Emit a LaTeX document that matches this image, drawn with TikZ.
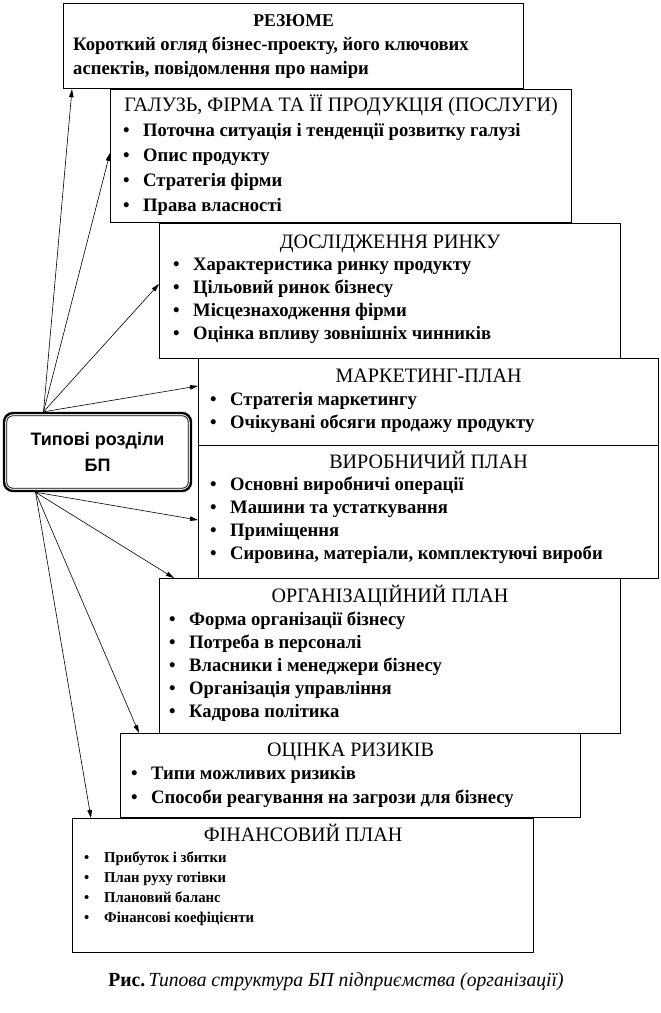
\documentclass[tikz,border=0pt]{standalone}
\usepackage{fontspec}
\setmainfont{Liberation Serif}
\newfontfamily\narrowserif{Liberation Serif}[FakeStretch=0.98]
\newfontfamily\hubfont{Liberation Sans}
\usetikzlibrary{arrows.meta, positioning}

\newcommand{\itm}[1]{\makebox[20pt][l]{\textbullet}#1}

\begin{document}
\begin{tikzpicture}[
    x=1pt, y=-1pt,
    secbox/.style={rectangle, draw, line width=1.2pt, anchor=north west},
    sectitle/.style={anchor=base, inner sep=0pt, font=\narrowserif\fontsize{20.5}{22}\selectfont},
    seclist/.style={anchor=north west, inner sep=0pt, align=left, font=\narrowserif\bfseries\fontsize{19}{23}\selectfont},
    hub/.style={rectangle, rounded corners=9pt, draw, line width=2.4pt, minimum width=187pt, minimum height=78pt, align=center, font=\hubfont\bfseries\fontsize{18}{26}\selectfont},
    arrow/.style={-{Triangle[length=8pt, width=4.5pt]}, line width=0.6pt}
]
\useasboundingbox (0,0) rectangle (661,1013);

% section boxes
\node[secbox, minimum width=460pt, minimum height=85pt] (resume) at (63,3) {};
\node[secbox, minimum width=461pt, minimum height=133pt] (galuz) at (110,89) {};
\node[secbox, minimum width=461pt, minimum height=135pt] (rynok) at (159,223) {};
\node[secbox, minimum width=460pt, minimum height=87pt] (marketing) at (198,358) {};
\node[secbox, minimum width=460pt, minimum height=133pt] (vyrob) at (198,445) {};
\node[secbox, minimum width=461pt, minimum height=155pt] (orgplan) at (159,578) {};
\node[secbox, minimum width=460pt, minimum height=84pt] (ryzyky) at (120,733) {};
\node[secbox, minimum width=461pt, minimum height=134pt] (finplan) at (72,818) {};

% titles
\node[sectitle, font=\narrowserif\bfseries\fontsize{18}{22}\selectfont] (resumeT) at ([yshift=-23pt]resume.north) {РЕЗЮМЕ};
\node[sectitle] (galuzT) at ([yshift=-22pt]galuz.north) {ГАЛУЗЬ, ФІРМА ТА ЇЇ ПРОДУКЦІЯ (ПОСЛУГИ)};
\node[sectitle] (rynokT) at ([yshift=-25pt]rynok.north) {ДОСЛІДЖЕННЯ РИНКУ};
\node[sectitle] (marketingT) at ([yshift=-24pt]marketing.north) {МАРКЕТИНГ-ПЛАН};
\node[sectitle] (vyrobT) at ([yshift=-23pt]vyrob.north) {ВИРОБНИЧИЙ ПЛАН};
\node[sectitle] (orgplanT) at ([yshift=-24pt]orgplan.north) {ОРГАНІЗАЦІЙНИЙ ПЛАН};
\node[sectitle] (ryzykyT) at ([yshift=-23pt]ryzyky.north) {ОЦІНКА РИЗИКІВ};
\node[sectitle] (finplanT) at ([yshift=-23pt]finplan.north) {ФІНАНСОВИЙ ПЛАН};

% contents
\node[seclist, font=\narrowserif\bfseries\fontsize{19}{24}\selectfont] (resumeL) at ([xshift=10pt,yshift=-34pt]resume.north west)
    {Короткий огляд бізнес-проекту, його ключових\\аспектів, повідомлення про наміри};
\node[seclist, font=\narrowserif\bfseries\fontsize{19}{25}\selectfont] (galuzL) at ([xshift=13pt,yshift=-34pt]galuz.north west)
    {\itm{Поточна ситуація і тенденції розвитку галузі}\\\itm{Опис продукту}\\\itm{Стратегія фірми}\\\itm{Права власності}};
\node[seclist] (rynokL) at ([xshift=14pt,yshift=-35pt]rynok.north west)
    {\itm{Характеристика ринку продукту}\\\itm{Цільовий ринок бізнесу}\\\itm{Місцезнаходження фірми}\\\itm{Оцінка впливу зовнішніх чинників}};
\node[seclist] (marketingL) at ([xshift=12pt,yshift=-34pt]marketing.north west)
    {\itm{Стратегія маркетингу}\\\itm{Очікувані обсяги продажу продукту}};
\node[seclist] (vyrobL) at ([xshift=12pt,yshift=-32pt]vyrob.north west)
    {\itm{Основні виробничі операції}\\\itm{Машини та устаткування}\\\itm{Приміщення}\\\itm{Сировина, матеріали, комплектуючі вироби}};
\node[seclist] (orgplanL) at ([xshift=10pt,yshift=-34pt]orgplan.north west)
    {\itm{Форма організації бізнесу}\\\itm{Потреба в персоналі}\\\itm{Власники і менеджери бізнесу}\\\itm{Організація управління}\\\itm{Кадрова політика}};
\node[seclist, font=\narrowserif\bfseries\fontsize{19}{24}\selectfont] (ryzykyL) at ([xshift=11pt,yshift=-33pt]ryzyky.north west)
    {\itm{Типи можливих ризиків}\\\itm{Способи реагування на загрози для бізнесу}};
\node[seclist, font=\narrowserif\bfseries\fontsize{15}{20}\selectfont] (finplanL) at ([xshift=12pt,yshift=-34pt]finplan.north west)
    {\itm{Прибуток і збитки}\\\itm{План руху готівки}\\\itm{Плановий баланс}\\\itm{Фінансові коефіцієнти}};

% central node
\node[hub] (bp) at (97.5,452) {Типові розділи\\БП};
\draw[line width=0.8pt, rounded corners=6pt] ([shift={(4pt,-4pt)}]bp.north west) rectangle ([shift={(-4pt,4pt)}]bp.south east);

% arrows
\draw[arrow] ([xshift=-54pt]bp.north) -- ([xshift=9pt]resume.south west);
\draw[arrow] ([xshift=-54pt]bp.north) -- ([yshift=-64pt]galuz.north west);
\draw[arrow] ([xshift=-54pt]bp.north) -- ([yshift=-61pt]rynok.north west);
\draw[arrow] ([xshift=-54pt]bp.north) -- ([yshift=-28pt]marketing.north west);
\draw[arrow] ([xshift=-62pt]bp.south) -- ([yshift=-75pt]vyrob.north west);
\draw[arrow] ([xshift=-62pt]bp.south) -- ([xshift=15pt]orgplan.north west);
\draw[arrow] ([xshift=-62pt]bp.south) -- ([xshift=19pt]ryzyky.north west);
\draw[arrow] ([xshift=-62pt]bp.south) -- ([xshift=19pt]finplan.north west);

% caption
\node[font=\narrowserif\fontsize{20}{22}\selectfont] (caption) at (336,982)
    {\textbf{Рис.}\,\textit{Типова структура БП підприємства (організації)}};

\end{tikzpicture}
\end{document}
